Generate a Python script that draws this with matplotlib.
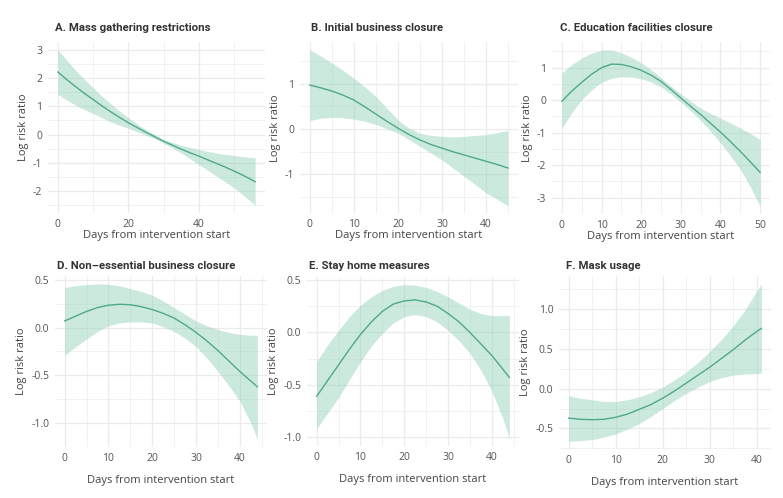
import matplotlib
matplotlib.use("Agg")
import matplotlib.pyplot as plt
from matplotlib.ticker import MultipleLocator, FormatStrFormatter

plt.rcParams['font.family'] = ['Open Sans', 'DejaVu Sans']
plt.rcParams['axes.unicode_minus'] = True

# ---------------- data ----------------
titles = ["A. Mass gathering restrictions", "B. Initial business closure",
          "C. Education facilities closure", "D. Non\u2013essential business closure",
          "E. Stay home measures", "F. Mask usage"]

a_days = [0, 2.5, 5, 7.5, 10, 12.5, 15, 17.5, 20, 22.5, 25, 27.5, 30, 32.5, 35, 37.5, 40, 42.5, 45, 47.5, 50, 52.5, 56]
a_mean = [2.23, 1.96, 1.71, 1.47, 1.25, 1.02, 0.81, 0.61, 0.42, 0.25, 0.08, -0.08, -0.24, -0.38, -0.52, -0.65, -0.77, -0.90, -1.03, -1.16, -1.30, -1.45, -1.68]
a_up   = [3.02, 2.65, 2.30, 1.97, 1.66, 1.37, 1.10, 0.84, 0.60, 0.38, 0.18, 0.00, -0.17, -0.28, -0.38, -0.46, -0.53, -0.60, -0.66, -0.71, -0.75, -0.79, -0.83]
a_lo   = [1.43, 1.23, 1.05, 0.89, 0.75, 0.60, 0.45, 0.33, 0.22, 0.10, -0.02, -0.15, -0.31, -0.48, -0.66, -0.86, -1.07, -1.27, -1.48, -1.69, -1.90, -2.15, -2.52]

b_days = [0, 2.5, 5, 7.5, 10, 12.5, 15, 17.5, 20, 22.5, 25, 27.5, 30, 32.5, 35, 37.5, 40, 42.5, 45]
b_mean = [0.97, 0.91, 0.84, 0.75, 0.64, 0.49, 0.33, 0.17, 0.02, -0.12, -0.24, -0.34, -0.42, -0.50, -0.57, -0.64, -0.71, -0.78, -0.86]
b_up   = [1.75, 1.61, 1.46, 1.30, 1.12, 0.93, 0.72, 0.46, 0.20, 0.02, -0.09, -0.14, -0.16, -0.17, -0.16, -0.14, -0.12, -0.08, -0.03]
b_lo   = [0.19, 0.24, 0.26, 0.25, 0.22, 0.17, 0.10, 0.01, -0.09, -0.23, -0.38, -0.53, -0.68, -0.86, -1.04, -1.22, -1.41, -1.55, -1.69]

c_days = [0, 2.5, 5, 7.5, 10, 12.5, 15, 17.5, 20, 22.5, 25, 27.5, 30, 32.5, 35, 37.5, 40, 42.5, 45, 47.5, 50]
c_mean = [-0.03, 0.28, 0.55, 0.80, 1.00, 1.11, 1.10, 1.03, 0.92, 0.77, 0.58, 0.33, 0.07, -0.19, -0.44, -0.71, -0.98, -1.27, -1.57, -1.89, -2.22]
c_up   = [0.84, 1.10, 1.30, 1.45, 1.54, 1.55, 1.46, 1.32, 1.15, 0.94, 0.69, 0.44, 0.19, -0.03, -0.24, -0.41, -0.55, -0.70, -0.85, -1.02, -1.21]
c_lo   = [-0.85, -0.38, 0.02, 0.32, 0.55, 0.67, 0.72, 0.71, 0.66, 0.56, 0.41, 0.19, -0.06, -0.33, -0.62, -0.95, -1.31, -1.70, -2.13, -2.66, -3.26]

d_days = [0, 2.5, 5, 7.5, 10, 12.5, 15, 17.5, 20, 22.5, 25, 27.5, 30, 32.5, 35, 37.5, 40, 42.5, 44]
d_mean = [0.07, 0.12, 0.17, 0.21, 0.235, 0.245, 0.24, 0.22, 0.19, 0.15, 0.10, 0.03, -0.05, -0.14, -0.24, -0.35, -0.46, -0.56, -0.62]
d_up   = [0.42, 0.44, 0.45, 0.46, 0.455, 0.44, 0.41, 0.38, 0.34, 0.28, 0.21, 0.14, 0.07, 0.02, -0.02, -0.05, -0.07, -0.08, -0.08]
d_lo   = [-0.29, -0.20, -0.12, -0.04, 0.02, 0.05, 0.06, 0.06, 0.05, 0.01, -0.04, -0.11, -0.20, -0.32, -0.46, -0.61, -0.77, -1.00, -1.17]

e_days = [0, 2.5, 5, 7.5, 10, 12.5, 15, 17.5, 20, 22.5, 25, 27.5, 30, 32.5, 35, 37.5, 40, 42.5, 44]
e_mean = [-0.61, -0.46, -0.31, -0.16, -0.02, 0.10, 0.20, 0.27, 0.30, 0.31, 0.29, 0.25, 0.18, 0.10, 0.00, -0.11, -0.22, -0.35, -0.43]
e_up   = [-0.28, -0.12, 0.02, 0.15, 0.26, 0.34, 0.40, 0.44, 0.455, 0.45, 0.43, 0.39, 0.34, 0.28, 0.22, 0.18, 0.16, 0.16, 0.16]
e_lo   = [-0.92, -0.77, -0.62, -0.45, -0.28, -0.13, -0.01, 0.09, 0.15, 0.17, 0.15, 0.10, 0.02, -0.08, -0.20, -0.36, -0.56, -0.82, -1.01]

f_days = [0, 2.5, 5, 7.5, 10, 12.5, 15, 17.5, 20, 22.5, 25, 27.5, 30, 32.5, 35, 37.5, 40, 41]
f_mean = [-0.37, -0.385, -0.39, -0.385, -0.36, -0.32, -0.26, -0.20, -0.12, -0.03, 0.07, 0.17, 0.27, 0.38, 0.49, 0.61, 0.72, 0.76]
f_up   = [-0.09, -0.12, -0.14, -0.16, -0.16, -0.14, -0.10, -0.05, 0.02, 0.11, 0.21, 0.33, 0.47, 0.62, 0.79, 0.99, 1.23, 1.32]
f_lo   = [-0.66, -0.655, -0.64, -0.61, -0.57, -0.51, -0.44, -0.35, -0.25, -0.15, -0.06, 0.02, 0.09, 0.14, 0.17, 0.185, 0.19, 0.20]

x_major = [20, 10, 10, 10, 10, 10]
y_major = [1, 1, 1, 0.5, 0.5, 0.5]
y_fmt = ['%g', '%g', '%g', '%.1f', '%.1f', '%.1f']

panels = [(a_days, a_mean, a_up, a_lo), (b_days, b_mean, b_up, b_lo),
          (c_days, c_mean, c_up, c_lo), (d_days, d_mean, d_up, d_lo),
          (e_days, e_mean, e_up, e_lo), (f_days, f_mean, f_up, f_lo)]

# ---------------- layout (pixels) ----------------
W, H = 783, 498
boxes = [(48, 265, 42, 213), (300, 518, 42, 213.5), (552, 770, 42, 214),
         (55, 267, 276, 447), (307, 519, 277, 446), (559, 771, 276, 449)]
title_pos = [(55, 28), (311, 28), (560, 28), (57, 266), (309, 266), (566, 266)]

LINE = '#4ea98a'
FILL = '#8fd0b5'
GRID = '#ebebeb'

fig = plt.figure(figsize=(W / 100, H / 100), dpi=100)
for i, (days, mean, up, lo) in enumerate(panels):
    l, r, t, b = boxes[i]
    ax = fig.add_axes([l / W, 1 - b / H, (r - l) / W, (b - t) / H])
    ax.fill_between(days, lo, up, color=FILL, alpha=0.45, linewidth=0, zorder=2)
    ax.plot(days, mean, color=LINE, linewidth=1.0, zorder=3)
    ax.margins(x=0.05, y=0.05)
    ax.xaxis.set_major_locator(MultipleLocator(x_major[i]))
    ax.xaxis.set_minor_locator(MultipleLocator(x_major[i] / 2))
    ax.yaxis.set_major_locator(MultipleLocator(y_major[i]))
    ax.yaxis.set_minor_locator(MultipleLocator(y_major[i] / 2))
    ax.yaxis.set_major_formatter(FormatStrFormatter(y_fmt[i]))
    ax.grid(True, which='major', color=GRID, linewidth=0.9, zorder=0)
    ax.grid(True, which='minor', color=GRID, linewidth=0.5, zorder=0)
    ax.set_axisbelow(True)
    for s in ax.spines.values():
        s.set_visible(False)
    ax.tick_params(which='both', length=0, labelsize=7.5, labelcolor='#555555', pad=4)
    ax.set_ylabel('Log risk ratio', fontsize=8, color='#444444', labelpad=3)
    ax.set_xlabel('Days from intervention start', fontsize=8, color='#444444',
                  labelpad=0 if i < 3 else 8)
    tx, ty = title_pos[i]
    fig.text(tx / W, 1 - ty / H, titles[i], fontsize=8.2, fontweight='bold',
             family=['Roboto', 'DejaVu Sans'],
             color='#333333', ha='left', va='center')

fig.savefig('out.png', dpi=100, facecolor='white')
